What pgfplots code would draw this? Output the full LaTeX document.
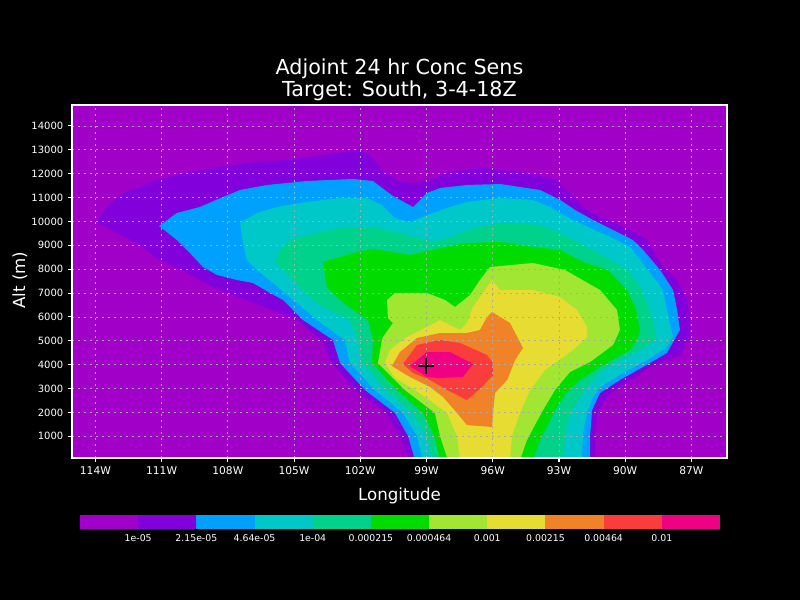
\documentclass[border=0pt]{standalone}
\usepackage{pgfplots}
\pgfplotsset{compat=1.18}
\usepackage{fontspec}
\setmainfont{DejaVu Sans}
\definecolor{c1}{RGB}{160,0,200}
\definecolor{c2}{RGB}{130,0,220}
\definecolor{c3}{RGB}{0,160,255}
\definecolor{c4}{RGB}{0,200,200}
\definecolor{c5}{RGB}{0,210,140}
\definecolor{c6}{RGB}{0,220,0}
\definecolor{c7}{RGB}{160,230,50}
\definecolor{c8}{RGB}{230,220,50}
\definecolor{c9}{RGB}{240,130,40}
\definecolor{c10}{RGB}{250,60,60}
\definecolor{c11}{RGB}{240,0,130}
\definecolor{c15}{RGB}{170,170,170}
\begin{document}
\begin{tikzpicture}
\fill[black] (0pt,0pt) rectangle (600pt,450pt);
\begin{axis}[
  at={(54pt,106.5pt)}, anchor=south west,
  width=491.25pt, height=264.75pt, scale only axis,
  xmin=-115.06, xmax=-85.39, ymin=91, ymax=14878,
  axis background/.style={fill=c1},
  axis on top,
  axis line style={white, line width=1.1pt},
  tick pos=left,
  tick align=outside, major tick length=3pt,
  tick style={white, line width=0.8pt},
  xtick={-114,-111,-108,-105,-102,-99,-96,-93,-90,-87},
  xticklabels={114W,111W,108W,105W,102W,99W,96W,93W,90W,87W},
  ytick={1000,2000,3000,4000,5000,6000,7000,8000,9000,10000,11000,12000,13000,14000},
  scaled y ticks=false,
  /pgf/number format/assume math mode=true,
  /pgf/number format/1000 sep={},
  ticklabel style={text=white, font=\fontsize{7.5}{9}\selectfont},
  xticklabel style={font=\fontsize{8}{9}\selectfont},
  grid=major,
  grid style={c15, line width=0.6pt, dash pattern=on 1.5pt off 3pt},
  xlabel={Longitude}, ylabel={Alt (m)},
  label style={text=white, font=\fontsize{12.5}{15}\selectfont},
  xlabel style={at={(axis description cs:0.5,-0.107)}, anchor=center},
  ylabel style={at={(axis description cs:-0.0794,0.504)}, anchor=center},
  title={Adjoint 24 hr Conc Sens\\Target: South, 3-4-18Z},
  title style={at={(axis description cs:0.5,1.049)}, anchor=center, align=center, text=white, font=\fontsize{15.5}{16.5}\selectfont},
]
% 1e-05 .. 2.15e-05
\addplot[fill=c2, draw=none] coordinates {(-99.75,0) (-100.20,1013) (-100.79,1976) (-102.24,2939) (-103.28,4071) (-103.74,5034) (-104.87,5872) (-107.14,6710) (-108.68,7254) (-109.85,7841) (-111.08,8385) (-112.12,9097) (-113.98,9977) (-113.48,10605) (-112.75,11192) (-112.12,11401) (-111.21,11736) (-109.72,12072) (-108.04,12323) (-106.68,12490) (-105.19,12574) (-103.96,12742) (-103.06,12867) (-102.02,12993) (-101.43,12658) (-100.97,12072) (-100.20,11653) (-99.52,11611) (-98.84,11736) (-97.94,12072) (-96.58,12239) (-94.77,12072) (-93.63,11862) (-93.09,11736) (-92.73,11317) (-92.18,10899) (-91.73,10480) (-90.82,10061) (-89.78,9642) (-89.01,9223) (-88.42,8260) (-87.65,7547) (-87.20,6710) (-87.06,5872) (-87.06,5244) (-87.52,4406) (-88.88,3903) (-89.78,3358) (-90.69,2814) (-91.23,2102) (-91.37,1013) (-91.37,0)} -- cycle;
% 2.15e-05 .. 4.64e-05
\addplot[fill=c3, draw=none] coordinates {(-99.52,0) (-99.84,1013) (-100.43,1976) (-101.79,2939) (-102.92,4071) (-103.24,5034) (-104.60,5872) (-105.50,6710) (-106.09,7003) (-106.86,7422) (-107.59,7547) (-108.49,7757) (-109.13,8092) (-109.72,8678) (-110.31,9223) (-111.12,9809) (-110.31,10354) (-109.27,10605) (-108.22,11024) (-107.45,11317) (-106.23,11527) (-104.42,11695) (-102.33,11778) (-101.43,11695) (-100.52,11066) (-99.61,10605) (-98.98,11192) (-98.39,11401) (-97.17,11527) (-95.67,11569) (-93.86,11317) (-92.95,10899) (-92.27,10480) (-91.46,10061) (-90.55,9642) (-89.65,9223) (-89.19,8804) (-88.42,7966) (-87.83,7128) (-87.65,6291) (-87.52,5453) (-88.11,4489) (-89.19,3903) (-90.24,3358) (-91.14,2814) (-91.50,2102) (-91.59,1013) (-91.59,0)} -- cycle;
% 4.64e-05 .. 1e-04
\addplot[fill=c4, draw=none] coordinates {(-99.16,0) (-99.43,1013) (-100.07,1976) (-101.34,2939) (-102.47,4071) (-102.70,5034) (-103.96,5872) (-105.19,6835) (-105.96,7422) (-106.68,7966) (-107.14,8385) (-107.32,9097) (-107.45,9935) (-106.68,10354) (-105.78,10605) (-104.42,10815) (-102.92,10982) (-101.70,10982) (-101.02,10689) (-100.43,10145) (-99.75,9977) (-98.71,10354) (-97.94,10605) (-97.17,10815) (-95.67,10982) (-94.18,10899) (-93.41,10605) (-92.64,10187) (-91.59,9726) (-90.69,9349) (-89.78,8930) (-88.97,7966) (-88.29,7128) (-88.11,6291) (-87.83,5160) (-88.11,4741) (-89.01,4196) (-90.10,3652) (-91.14,3065) (-91.46,2646) (-91.73,1976) (-91.91,1138) (-91.96,0)} -- cycle;
% 1e-04 .. 2.15e-04
\addplot[fill=c5, draw=none] coordinates {(-98.75,0) (-98.98,1013) (-99.66,1976) (-100.79,2939) (-101.92,4071) (-102.11,5034) (-102.47,5872) (-103.69,6416) (-104.42,6919) (-105.19,7673) (-105.87,8301) (-105.64,8804) (-105.19,9223) (-104.42,9432) (-102.92,9726) (-101.43,9768) (-100.20,9516) (-98.71,9139) (-97.62,9432) (-96.71,9768) (-95.35,9935) (-93.86,9851) (-92.95,9516) (-91.91,9013) (-90.82,8469) (-89.92,7966) (-89.33,7254) (-88.88,6291) (-88.65,5453) (-88.65,5034) (-89.33,4615) (-90.24,4196) (-91.14,3694) (-91.82,2939) (-92.27,2311) (-92.59,1683) (-92.73,1013) (-92.82,0)} -- cycle;
% 2.15e-04 .. 4.64e-04
\addplot[fill=c6, draw=none] coordinates {(-98.39,0) (-98.66,1013) (-99.16,1976) (-100.34,2939) (-101.47,4071) (-101.43,5034) (-101.65,5872) (-102.15,6165) (-102.92,6710) (-103.51,7254) (-103.69,8301) (-102.92,8511) (-102.15,8720) (-101.43,8846) (-100.52,8720) (-99.75,8595) (-98.39,8888) (-97.17,9097) (-95.67,9139) (-94.18,8930) (-92.95,8804) (-91.91,8301) (-90.78,7966) (-89.92,7128) (-89.51,6291) (-89.33,5453) (-89.46,5034) (-89.78,4615) (-91.14,3903) (-92.05,3358) (-92.73,2730) (-93.18,2102) (-93.50,1473) (-93.86,845) (-94.18,0)} -- cycle;
% 4.64e-04 .. 1e-03
\addplot[fill=c7, draw=none] coordinates {(-98.03,0) (-98.39,1013) (-98.62,1976) (-99.98,2939) (-101.20,4071) (-101.02,5034) (-100.97,5160) (-100.52,5746) (-100.75,5956) (-100.79,6710) (-100.43,7003) (-98.98,7003) (-98.16,6710) (-97.71,6416) (-97.03,6919) (-96.58,7547) (-96.13,8092) (-94.18,8260) (-92.73,7966) (-91.14,7128) (-90.37,6291) (-90.24,5453) (-90.55,4825) (-91.59,4112) (-92.50,3694) (-93.18,2939) (-93.72,2102) (-94.09,1473) (-94.45,845) (-94.77,0)} -- cycle;
% 1e-03 .. 2.15e-03
\addplot[fill=c8, draw=none] coordinates {(-97.48,0) (-97.62,1013) (-98.07,1976) (-99.52,2939) (-100.43,3442) (-100.88,4071) (-100.66,4615) (-99.89,5160) (-98.98,5579) (-98.39,5872) (-97.48,5453) (-97.17,5746) (-96.90,6416) (-96.03,7547) (-95.67,7128) (-94.18,7128) (-92.95,6835) (-92.18,6291) (-91.73,5579) (-91.73,5160) (-92.36,4615) (-93.63,3777) (-94.31,2939) (-94.77,1976) (-95.13,1013) (-95.22,0)} -- cycle;
% 2.15e-03 .. 4.64e-03
\addplot[fill=c9, draw=none] coordinates {(-96.03,6207) (-95.22,5746) (-94.63,4699) (-94.99,4196) (-95.35,3358) (-95.90,2814) (-95.99,1976) (-96.03,1390) (-97.17,1473) (-97.62,1976) (-98.25,2646) (-98.84,3065) (-99.75,3484) (-100.57,3945) (-100.20,4531) (-99.43,5118) (-98.39,5327) (-97.17,5327) (-96.58,5453) (-96.26,5997)} -- cycle;
% 4.64e-03 .. 0.01
\addplot[fill=c10, draw=none] coordinates {(-100.07,4029) (-99.43,4825) (-98.39,5034) (-97.48,4908) (-96.26,4406) (-95.99,4071) (-95.99,3568) (-96.49,3065) (-97.17,2521) (-98.07,2939) (-98.84,3358) (-99.61,3652)} -- cycle;
% > 0.01
\addplot[fill=c11, draw=none] coordinates {(-99.75,3945) (-98.98,4531) (-97.94,4531) (-96.90,4029) (-97.35,3484) (-98.39,3442) (-98.98,3484)} -- cycle;
% target point
\addplot[only marks, mark=+, mark size=6pt, mark options={black, line width=1.3pt}] coordinates {(-99.03,3960)};
\end{axis}
% colour key
\begin{axis}[
  at={(60pt,53.25pt)}, anchor=south west,
  width=480pt, height=10.5pt, scale only axis,
  xmin=0, xmax=11, ymin=0, ymax=1,
  axis line style={draw=none},
  ytick=\empty,
  xtick={1,2,3,4,5,6,7,8,9,10},
  xticklabels={1e-05,2.15e-05,4.64e-05,1e-04,0.000215,0.000464,0.001,0.00215,0.00464,0.01},
  major tick length=0pt, xtick style={draw=none},
  xticklabel style={text=white, font=\fontsize{7}{8}\selectfont, anchor=center, yshift=-6.75pt},
]
\addplot[fill=c1, draw=none] coordinates {(0,0) (1,0) (1,1) (0,1)} -- cycle;
\addplot[fill=c2, draw=none] coordinates {(1,0) (2,0) (2,1) (1,1)} -- cycle;
\addplot[fill=c3, draw=none] coordinates {(2,0) (3,0) (3,1) (2,1)} -- cycle;
\addplot[fill=c4, draw=none] coordinates {(3,0) (4,0) (4,1) (3,1)} -- cycle;
\addplot[fill=c5, draw=none] coordinates {(4,0) (5,0) (5,1) (4,1)} -- cycle;
\addplot[fill=c6, draw=none] coordinates {(5,0) (6,0) (6,1) (5,1)} -- cycle;
\addplot[fill=c7, draw=none] coordinates {(6,0) (7,0) (7,1) (6,1)} -- cycle;
\addplot[fill=c8, draw=none] coordinates {(7,0) (8,0) (8,1) (7,1)} -- cycle;
\addplot[fill=c9, draw=none] coordinates {(8,0) (9,0) (9,1) (8,1)} -- cycle;
\addplot[fill=c10, draw=none] coordinates {(9,0) (10,0) (10,1) (9,1)} -- cycle;
\addplot[fill=c11, draw=none] coordinates {(10,0) (11,0) (11,1) (10,1)} -- cycle;
\end{axis}
\end{tikzpicture}
\end{document}
